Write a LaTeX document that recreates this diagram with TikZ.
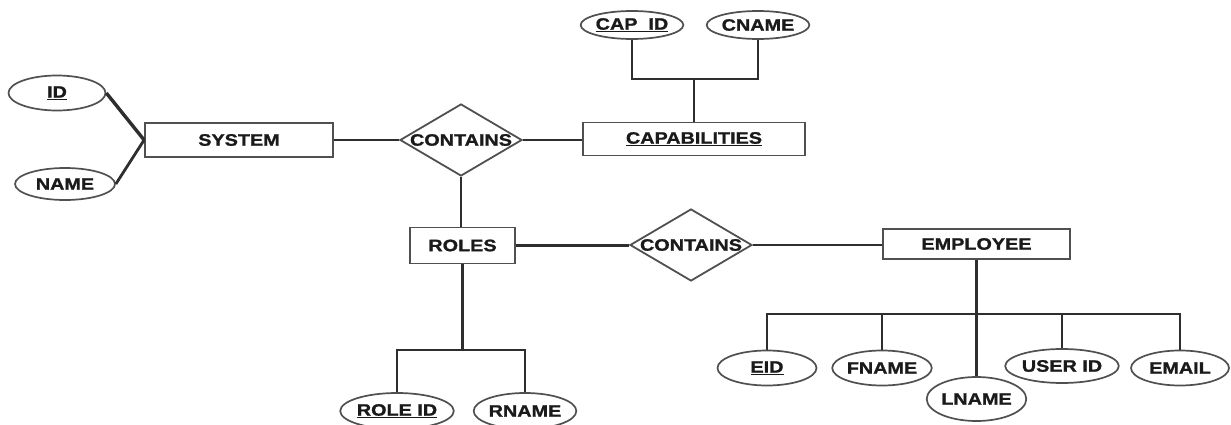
\documentclass[tikz,border=0pt]{standalone}
\usepackage{fontspec}
\newfontfamily\erfont{Liberation Sans}[FakeStretch=1.2,FakeBold=1.2]
\usepackage{tikz}
\usetikzlibrary{shapes.geometric}
\usetikzlibrary{positioning,calc}
\definecolor{edgegray}{HTML}{2E2E2E}
\definecolor{framegray}{HTML}{505050}
\definecolor{textgray}{HTML}{1A1A1A}

\begin{document}
\begin{tikzpicture}[
			x=1pt,y=-1pt,
			every node/.style={
				font=\erfont\bfseries\fontsize{16.5}{18}\selectfont,
				text=textgray,
				inner sep=0pt
			},
			box/.style={
				draw=framegray,
				line width=1.8pt,
				rectangle,
				align=center
			},
			attr/.style={
				draw=framegray,
				line width=1.7pt,
				ellipse,
				minimum width=99pt,
				minimum height=35pt
			},
			rel/.style={
				draw=framegray,
				line width=1.8pt,
				diamond,
				minimum width=122pt,
				minimum height=72pt
			},
			link/.style={
				draw=edgegray,
				line width=2.8pt
			}
			]
			
			\clip (0,0) rectangle (1231,425);
			\fill[white] (0,0) rectangle (1231,425);
			
			\node[box,minimum width=188pt,minimum height=34pt] (system) at (239,140) {SYSTEM};
			
			\node[rel] (contains1) at (461,140) {\makebox[0pt]{CONTAINS}};
			
			\node[box,minimum width=222pt,minimum height=33pt] (cap) at (694,139) {\underline{CAPABILITIES}};
			
			\node[box,minimum width=105pt,minimum height=36pt] (roles) at (462.5,245.5) {ROLES};
			
			\node[rel] (contains2) at (691,245) {\makebox[0pt]{CONTAINS}};
			
			\node[box,minimum width=187pt,minimum height=30pt] (employee) at (976.5,244) {EMPLOYEE};
			
			\node[attr,minimum width=97pt,minimum height=35pt] (id) at (57,93) {\underline{ID}};
			\node[attr,minimum width=100pt,minimum height=32pt] (name) at (65,184) {NAME};
			
			\node[attr,minimum width=99pt,minimum height=28pt] (capid) at (632,25) {\underline{CAP\ \ ID}};
			\node[attr,minimum width=100pt,minimum height=28pt] (cname) at (758,25) {CNAME};
			
			\node[attr,minimum width=97pt,minimum height=36pt] (roleid) at (397,411) {\underline{ROLE ID}};
			\node[attr,minimum width=100pt,minimum height=36pt] (rname) at (525,411) {RNAME};
			
			\node[attr] (eid) at (767,368) {\underline{EID}};
			\node[attr] (fname) at (882,368) {FNAME};
			\node[attr,minimum width=92pt,minimum height=44pt] (lname) at (976.5,399) {LNAME};
			\node[attr,minimum height=34pt] (userid) at (1062,366) {USER ID};
			\node[attr,minimum width=98pt] (email) at (1180,368) {EMAIL};
			
			\coordinate (capjoin) at (694,79);
			\coordinate (rolejoin) at (462.5,350);
			\coordinate (empjoin) at (976.5,314);
			
			\draw[link,line width=3.4pt] (id.east) -- (system.west);
			\draw[link] (name.east) -- (system.west);
			
			\draw[link] (system.east) -- (contains1.west);
			\draw[link] (contains1.east) -- (contains1.east -| cap.west);
			\draw[link] (contains1.south) -- (contains1.south |- roles.north);
			\draw[link] (roles.east) -- (roles.east -| contains2.west);
			\draw[link] (contains2.east) -- (contains2.east -| employee.west);
			
			\draw[link] (capid.south) |- (capjoin) -| (cname.south);
			\draw[link] (capjoin) -- (capjoin |- cap.north);
			
			\draw[link] (roles.south) -- (rolejoin);
			\draw[link] (roleid.north) |- (rolejoin) -| (rname.north);
			
			\draw[link] (employee.south) -- (lname.north);
			\draw[link] (eid.north) |- (empjoin) -| (email.north);
			\draw[link] (fname.north) -- (fname.north |- empjoin);
			\draw[link] (userid.north) -- (userid.north |- empjoin);
			
		\end{tikzpicture}
\end{document}
